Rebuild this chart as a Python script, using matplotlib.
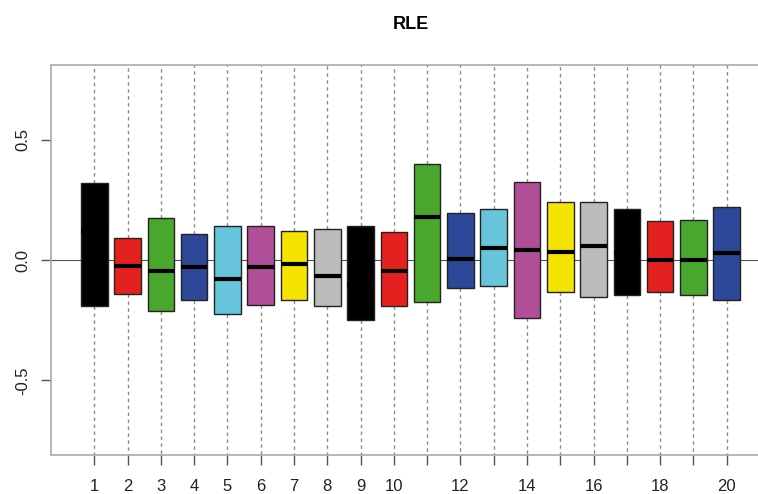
import numpy as np
import matplotlib.pyplot as plt

# RLE boxplot, 20 samples
samples = list(range(1, 21))
q1 = [-0.19, -0.14, -0.21, -0.165, -0.225, -0.185, -0.165, -0.19, -0.25, -0.19,
      -0.175, -0.115, -0.11, -0.24, -0.135, -0.155, -0.145, -0.135, -0.145, -0.165]
med = [0.12, -0.025, -0.045, -0.03, -0.08, -0.03, -0.015, -0.065, -0.104, -0.045,
       0.18, 0.005, 0.05, 0.042, 0.035, 0.06, 0.03, 0.0, 0.0, 0.03]
q3 = [0.32, 0.09, 0.175, 0.11, 0.14, 0.14, 0.12, 0.13, 0.14, 0.118,
      0.40, 0.195, 0.21, 0.325, 0.24, 0.24, 0.21, 0.16, 0.165, 0.22]
whisk_lo = [-1.2] * 20   # whiskers run off the plotted range
whisk_hi = [1.2] * 20
tick_labels = ['1', '2', '3', '4', '5', '6', '7', '8', '9', '10',
               '', '12', '', '14', '', '16', '', '18', '', '20']

palette = ['#000000', '#e5211f', '#4aa72d', '#2d4899', '#66c5da', '#b04e97', '#f5e400', '#bcbcbc']
colors = [palette[i % len(palette)] for i in range(len(samples))]

plt.rcParams['font.family'] = ['Liberation Sans', 'DejaVu Sans']

fig = plt.figure(figsize=(7.58, 4.94), dpi=100)
ax = fig.add_axes([51/758, 1 - 455/494, 719/758, 390/494])

stats = [{'med': m, 'q1': a, 'q3': b, 'whislo': lo, 'whishi': hi, 'fliers': []}
         for m, a, b, lo, hi in zip(med, q1, q3, whisk_lo, whisk_hi)]

ax.axhline(0, color='#555555', lw=0.8, zorder=1)

bp = ax.bxp(stats, positions=samples, widths=0.8, patch_artist=True, showcaps=False,
            boxprops=dict(edgecolor='#222222', lw=1),
            medianprops=dict(color='black', lw=3),
            whiskerprops=dict(color='#8a8a8a', lw=1, ls=(0, (2.5, 2.5))))
for patch, c in zip(bp['boxes'], colors):
    patch.set_facecolor(c)
for w in bp['whiskers']:
    w.set_zorder(0.5)

ax.set_xlim(-0.3, 21.3)
ax.set_ylim(-0.81, 0.81)
ax.set_xticks(samples)
ax.set_xticklabels(tick_labels)
ax.set_yticks([-0.5, 0.0, 0.5])
ax.set_yticklabels(['-0.5', '0.0', '0.5'], rotation=90, va='center')
ax.tick_params(colors='#555555', labelcolor='#222222', labelsize=12, length=7, width=1)
ax.tick_params(axis='x', pad=10)
ax.tick_params(axis='y', pad=8)
for s in ax.spines.values():
    s.set_color('#aaaaaa')
    s.set_linewidth(1.2)

ax.set_title('RLE', fontsize=13, fontweight='bold', pad=26)

fig.savefig('out.png', dpi=100)
